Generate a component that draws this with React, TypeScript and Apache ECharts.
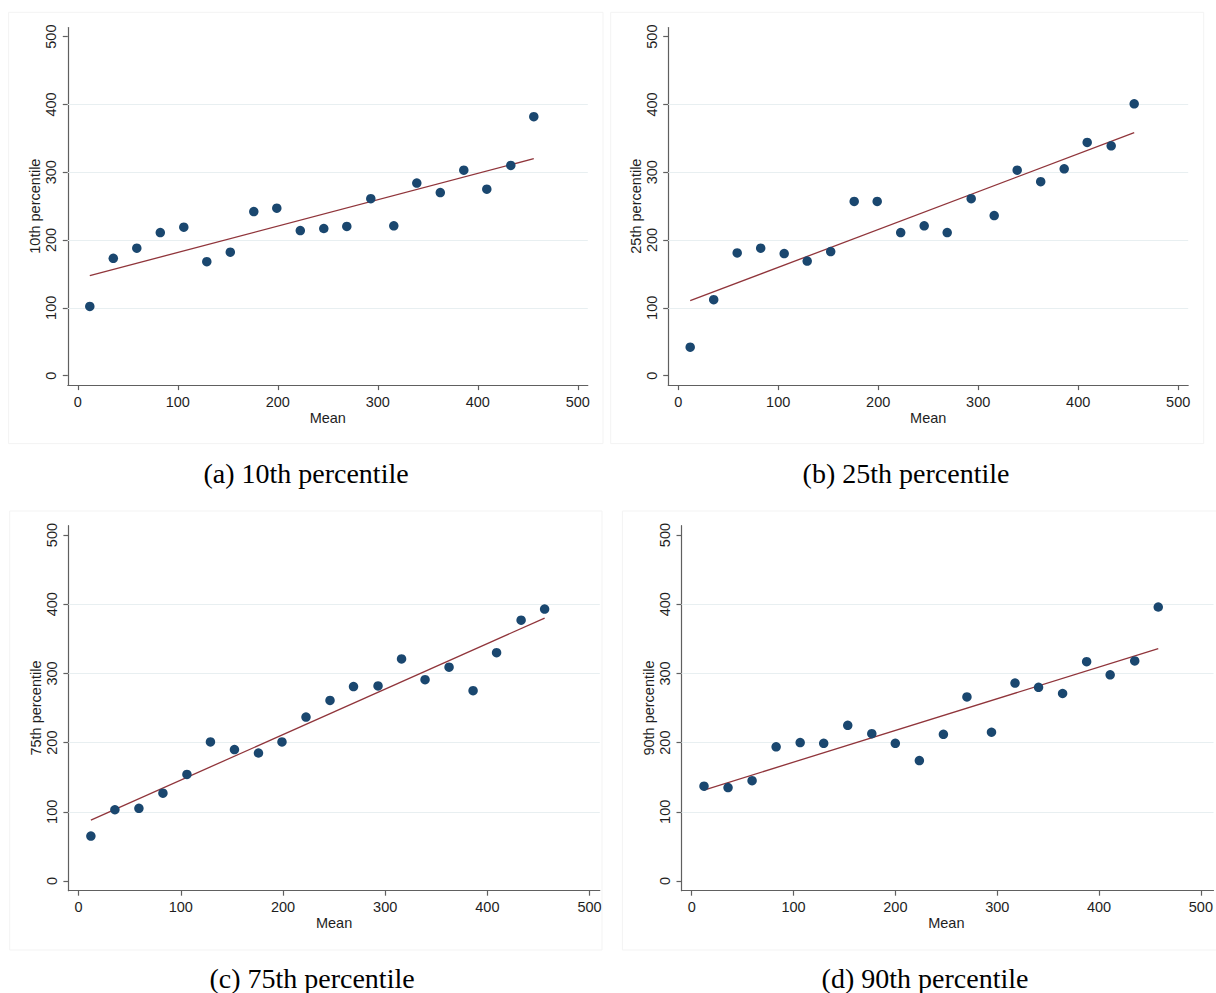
import React, { useEffect, useRef } from "react";
import * as echarts from "echarts";

// ---- data ----
const meanX = [12, 35.5, 59, 82.5, 106, 129, 152.5, 176, 199, 222.5, 246, 269, 293, 316, 339, 362.5, 386, 409, 433, 456];
const p10 = [102, 173, 188, 211, 219, 168, 182, 242, 247, 214, 217, 220, 261, 221, 284, 270, 303, 275, 310, 382];
const p25 = [42, 112, 181, 188, 180, 169, 183, 257, 257, 211, 221, 211, 261, 236, 303, 286, 305, 344, 339, 401];
const p75 = [65, 103, 105, 127, 154, 201, 190, 185, 201, 237, 261, 281, 282, 321, 291, 309, 275, 330, 377, 393];
const p90 = [137, 135, 145, 194, 200, 199, 225, 213, 199, 174, 212, 266, 215, 286, 280, 271, 317, 298, 318, 396];

const fitX = [12, 456];
const fit10 = [147.5, 320];
const fit25 = [110.5, 358.5];
const fit75 = [88, 380];
const fit90 = [131.5, 336];

const tickValues = [0, 100, 200, 300, 400, 500];
const gridValues = [100, 200, 300, 400];
const xTitle = "Mean";
const yTitles = ["10th percentile", "25th percentile", "75th percentile", "90th percentile"];
const captions = ["(a) 10th percentile", "(b) 25th percentile", "(c) 75th percentile", "(d) 90th percentile"];

const seriesY = [p10, p25, p75, p90];
const fitsY = [fit10, fit25, fit75, fit90];

// axis ranges (Stata pads the plot region a little)
const X_MIN = -10;
const X_MAX = 510;
const Y_MIN = -14;
const Y_MAX = 513.5;
const T_MIN = 0;
const T_MAX = 500;
const T_STEP = 100;

// ---- layout ----
const panels = [
  { left: 67.8, top: 27.5, width: 520, height: 357.6, box: [8.6, 12.3, 594.4, 431.3], cap: [306, 473] },
  { left: 668.2, top: 27.5, width: 520, height: 357.6, box: [610.7, 12.3, 593, 431.3], cap: [906, 473] },
  { left: 68.4, top: 525.7, width: 531.4, height: 365, box: [9.7, 511, 592.3, 439], cap: [312, 978] },
  { left: 681.5, top: 525.7, width: 532, height: 365, box: [622.4, 511, 600, 439], cap: [925, 978] },
];

const SANS = "'Liberation Sans', Arial, Helvetica, sans-serif";
const SERIF = "'Liberation Serif', 'Times New Roman', Times, serif";
const AXIS_COLOR = "#606060";
const TEXT_COLOR = "#1e1e1e";
const DOT_COLOR = "#1a476f";
const FIT_COLOR = "#90353b";
const GRID_COLOR = "#e8eff1";
const FONT_SIZE = 14.5;

function buildOption() {
  const grid: any[] = [];
  const xAxis: any[] = [];
  const yAxis: any[] = [];
  const series: any[] = [];
  const graphic: any[] = [];

  panels.forEach((p, i) => {
    const xSpan = X_MAX - X_MIN;
    const ySpan = Y_MAX - Y_MIN;
    const innerLeft = p.left + (p.width * (T_MIN - X_MIN)) / xSpan;
    const innerWidth = (p.width * (T_MAX - T_MIN)) / xSpan;
    const innerTop = p.top + (p.height * (Y_MAX - T_MAX)) / ySpan;
    const innerHeight = (p.height * (T_MAX - T_MIN)) / ySpan;
    const xOff = (p.height * (T_MIN - Y_MIN)) / ySpan;
    const yOff = (p.width * (T_MIN - X_MIN)) / xSpan;

    // outer grid (frame + data)
    grid.push({ left: p.left, top: p.top, width: p.width, height: p.height, containLabel: false });
    // inner grid (ticks / labels)
    grid.push({ left: innerLeft, top: innerTop, width: innerWidth, height: innerHeight, containLabel: false });

    const og = 2 * i;
    const ig = 2 * i + 1;

    xAxis.push({
      gridIndex: og,
      type: "value",
      min: X_MIN,
      max: X_MAX,
      axisLine: { show: true, onZero: false, lineStyle: { color: AXIS_COLOR, width: 1.2 } },
      axisTick: { show: false },
      axisLabel: { show: false },
      splitLine: { show: false },
    });
    yAxis.push({
      gridIndex: og,
      type: "value",
      min: Y_MIN,
      max: Y_MAX,
      axisLine: { show: true, onZero: false, lineStyle: { color: AXIS_COLOR, width: 1.2 } },
      axisTick: { show: false },
      axisLabel: { show: false },
      splitLine: { show: false },
    });
    xAxis.push({
      gridIndex: ig,
      type: "value",
      min: T_MIN,
      max: T_MAX,
      interval: T_STEP,
      position: "bottom",
      offset: xOff,
      axisLine: { show: false, onZero: false },
      axisTick: { show: true, length: 5, lineStyle: { color: AXIS_COLOR, width: 1.2 } },
      axisLabel: {
        margin: 9,
        fontSize: FONT_SIZE,
        fontFamily: SANS,
        color: TEXT_COLOR,
        showMinLabel: true,
        showMaxLabel: true,
        formatter: (v: number) => (tickValues.includes(v) ? String(v) : ""),
      },
      splitLine: { show: false },
      name: xTitle,
      nameLocation: "middle",
      nameGap: 24,
      nameTextStyle: { fontSize: FONT_SIZE, fontFamily: SANS, color: TEXT_COLOR },
    });
    yAxis.push({
      gridIndex: ig,
      type: "value",
      min: T_MIN,
      max: T_MAX,
      interval: T_STEP,
      position: "left",
      offset: yOff,
      axisLine: { show: false, onZero: false },
      axisTick: { show: true, length: 5, lineStyle: { color: AXIS_COLOR, width: 1.2 } },
      axisLabel: {
        rotate: 90,
        margin: 9,
        fontSize: FONT_SIZE,
        fontFamily: SANS,
        color: TEXT_COLOR,
        showMinLabel: true,
        showMaxLabel: true,
      },
      splitLine: { show: false },
      name: yTitles[i],
      nameLocation: "middle",
      nameRotate: 90,
      nameGap: 25,
      nameTextStyle: { fontSize: FONT_SIZE, fontFamily: SANS, color: TEXT_COLOR },
    });

    // fitted line (+ gridlines as markLine)
    series.push({
      type: "line",
      xAxisIndex: og,
      yAxisIndex: og,
      data: fitX.map((x, k) => [x, fitsY[i][k]]),
      showSymbol: false,
      symbol: "none",
      silent: true,
      z: 2,
      lineStyle: { color: FIT_COLOR, width: 1.3 },
      markLine: {
        silent: true,
        z: 1,
        symbol: ["none", "none"],
        label: { show: false },
        emphasis: { disabled: true },
        lineStyle: { color: GRID_COLOR, width: 1, type: "solid" },
        data: gridValues.map((v) => ({ yAxis: v })),
      },
    });
    series.push({
      type: "scatter",
      xAxisIndex: og,
      yAxisIndex: og,
      data: meanX.map((x, k) => [x, seriesY[i][k]]),
      symbol: "circle",
      symbolSize: 9.5,
      silent: true,
      z: 3,
      itemStyle: { color: DOT_COLOR, opacity: 1 },
    });

    graphic.push({
      type: "rect",
      silent: true,
      z: -10,
      shape: { x: p.box[0], y: p.box[1], width: p.box[2], height: p.box[3] },
      style: { fill: "none", stroke: "#f3f3f3", lineWidth: 1 },
    });
    graphic.push({
      type: "text",
      silent: true,
      x: p.cap[0],
      y: p.cap[1],
      style: {
        text: captions[i],
        fill: "#000000",
        font: `28px ${SERIF}`,
        align: "center",
        verticalAlign: "middle",
      },
    });
  });

  return {
    animation: false,
    backgroundColor: "#ffffff",
    grid,
    xAxis,
    yAxis,
    series,
    graphic,
  };
}

export default function App() {
  const ref = useRef<HTMLDivElement>(null);
  useEffect(() => {
    if (!ref.current) return;
    const chart = echarts.init(ref.current, undefined, { renderer: "svg" });
    chart.setOption(buildOption() as any);
    return () => chart.dispose();
  }, []);
  return (
    <div
      ref={ref}
      style={{ position: "fixed", left: 0, top: 0, width: 1216, height: 993, background: "#ffffff" }}
    />
  );
}
